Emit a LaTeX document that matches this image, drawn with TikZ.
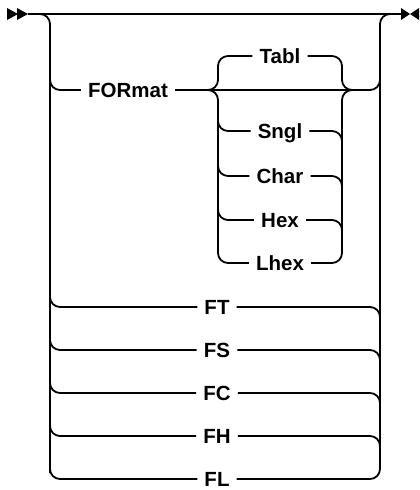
\documentclass[tikz,border=0pt]{standalone}
\usepackage{fontspec}
\setmainfont{Liberation Sans}
\begin{document}
\begin{tikzpicture}[x=1pt,y=-1pt,
  rail/.style={line width=1.8pt, rounded corners=10pt},
  kw/.style={font=\fontsize{20.5}{21}\selectfont\bfseries, inner xsep=7pt, inner ysep=0pt,
    text height=14.5pt, text depth=0pt, anchor=center},
  tip/.style={fill=black}]
\useasboundingbox (0,0) rectangle (420,490);
% terminals
\coordinate (st) at (28,14);
\coordinate (en) at (401,14);
\fill[tip] (7,8) -- (18,14) -- (7,20) -- cycle;
\fill[tip] (17,8) -- (28,14) -- (17,20) -- cycle;
\fill[tip] (401,8) -- (410,14) -- (401,20) -- cycle;
\fill[tip] (419,8) -- (410,14) -- (419,20) -- cycle;
\draw[rail] (st) -- (en);
% keywords
\node[kw] (fmt) at (128,90) {FORmat};
\node[kw] (tabl) at (280,56) {Tabl};
\node[kw] (sngl) at (280,131) {Sngl};
\node[kw] (char) at (280,176) {Char};
\node[kw] (hex) at (280,220) {Hex};
\node[kw] (lhex) at (280,263) {Lhex};
\node[kw] (ft) at (217,307) {FT};
\node[kw] (fs) at (217,350) {FS};
\node[kw] (fc) at (217,393) {FC};
\node[kw] (fh) at (217,436) {FH};
\node[kw] (fl) at (217,479) {FL};
% outer choice
\draw[rail] (38,14) -| (fl.west -| 50,0) |- (fl.west);
\draw[rail] (fl.east) -| (380,14) -- (392,14);
\draw[rail] (50,70) |- (fmt.west);
\draw[rail] (fmt.east) -| (380,70);
\foreach \k in {ft,fs,fc,fh}{
  \draw[rail] (50,0 |- \k.west) ++(0,-20) |- (\k.west);
  \draw[rail] (\k.east) -| ([yshift=-20pt]380,0 |- \k.east);
}
% inner choice
\draw[rail] (208,90) -| (218,56) -- (tabl.west);
\draw[rail] (208,90) -| (218,263) -- (lhex.west);
\draw[rail] (tabl.east) -| (342,90) -- (352,90);
\draw[rail] (lhex.east) -| (342,90) -- (352,90);
\foreach \k in {sngl,char,hex}{
  \draw[rail] (218,0 |- \k.west) ++(0,-20) |- (\k.west);
  \draw[rail] (\k.east) -| ([yshift=-20pt]342,0 |- \k.east);
}
\end{tikzpicture}
\end{document}
